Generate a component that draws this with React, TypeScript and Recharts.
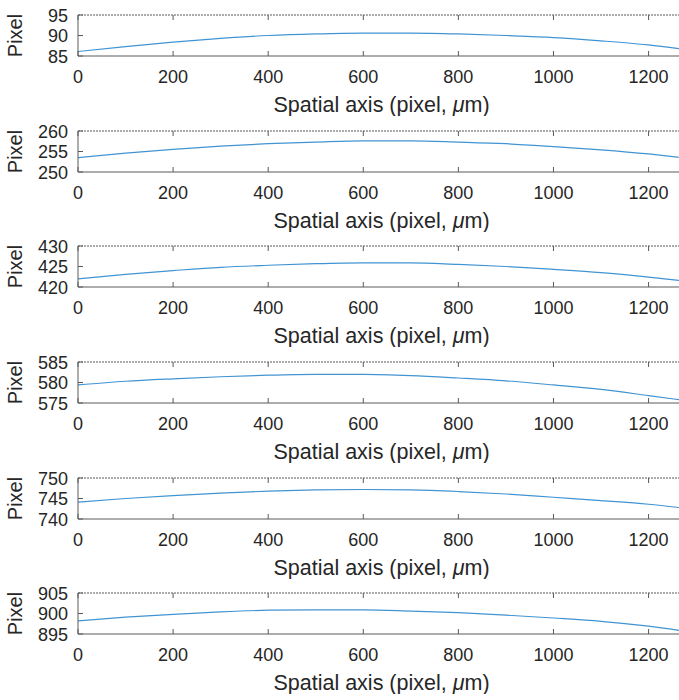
import React from 'react';
import { LineChart, Line, XAxis, YAxis } from 'recharts';

// spatial positions (pixel, µm)
const xs = [0, 100, 200, 300, 400, 500, 600, 700, 800, 900, 1000, 1100, 1200, 1264];
const xTicks = [0, 200, 400, 600, 800, 1000, 1200];

// line positions
const row1 = [86.1, 87.3, 88.4, 89.3, 90.0, 90.4, 90.6, 90.6, 90.4, 90.0, 89.5, 88.7, 87.7, 86.8];
const row2 = [253.5, 254.6, 255.5, 256.3, 256.9, 257.3, 257.6, 257.6, 257.3, 256.9, 256.2, 255.4, 254.4, 253.6];
const row3 = [422.0, 423.1, 424.0, 424.8, 425.3, 425.7, 425.9, 425.9, 425.5, 425.0, 424.3, 423.5, 422.4, 421.6];
const row4 = [579.4, 580.3, 580.9, 581.4, 581.8, 582.0, 582.0, 581.7, 581.1, 580.4, 579.4, 578.3, 576.8, 575.8];
const row5 = [744.1, 745.0, 745.7, 746.3, 746.8, 747.1, 747.2, 747.1, 746.7, 746.1, 745.3, 744.5, 743.6, 742.8];
const row6 = [898.2, 899.1, 899.8, 900.4, 900.8, 900.9, 900.9, 900.6, 900.2, 899.6, 898.9, 898.1, 896.9, 895.9];

const rows = [row1, row2, row3, row4, row5, row6];
const yTickSets = [
  [85, 90, 95],
  [250, 255, 260],
  [420, 425, 430],
  [575, 580, 585],
  [740, 745, 750],
  [895, 900, 905],
];

const FONT = '"Liberation Sans", Arial, Helvetica, sans-serif';
const AXIS = '#5a5a5a';
const TEXT = '#262626';
const LINE = '#4094d3';
const PITCH = 115.66;

const BottomTick = (props: any) => {
  const { x, y, payload } = props;
  return (
    <g>
      <line x1={x} y1={y} x2={x} y2={y - 5} stroke={AXIS} />
      <text x={x} y={y + 27} textAnchor="middle" fontSize={18} fill={TEXT} fontFamily={FONT}>
        {payload.value}
      </text>
    </g>
  );
};

const TopTick = (props: any) => {
  const { x, y } = props;
  return <line x1={x} y1={y} x2={x} y2={y + 5} stroke={AXIS} />;
};

const LeftTick = (props: any) => {
  const { x, y, payload } = props;
  return (
    <g>
      <line x1={x} y1={y} x2={x + 5} y2={y} stroke={AXIS} />
      <text x={x - 10} y={y + 6.5} textAnchor="end" fontSize={18} fill={TEXT} fontFamily={FONT}>
        {payload.value}
      </text>
    </g>
  );
};

const XTitle = (props: any) => {
  const vb = props.viewBox || { x: 78, y: 56, width: 601 };
  return (
    <text x={vb.x + vb.width / 2 + 3} y={vb.y + 56} textAnchor="middle" fontSize={21.5} fill={TEXT} fontFamily={FONT}>
      Spatial axis (pixel, <tspan fontStyle="italic">μ</tspan>m)
    </text>
  );
};

const YTitle = (props: any) => {
  const vb = props.viewBox || { y: 15, height: 41 };
  const cy = vb.y + vb.height / 2;
  return (
    <text x={22} y={cy} transform={`rotate(-90 22 ${cy})`} textAnchor="middle" fontSize={20} fill={TEXT} fontFamily={FONT}>
      Pixel
    </text>
  );
};

function Panel({ values, yTicks, top }: { values: number[]; yTicks: number[]; top: number }) {
  const data = xs.map((x, i) => ({ x, y: values[i] }));
  const domain: [number, number] = [yTicks[0], yTicks[yTicks.length - 1]];
  return (
    <div style={{ position: 'absolute', left: 0, top }}>
      <LineChart width={679} height={116} data={data} margin={{ top: 14, right: 0, bottom: 0, left: 0 }}>
        <XAxis
          dataKey="x"
          type="number"
          domain={[0, 1264]}
          ticks={xTicks}
          interval={0}
          height={60}
          tickSize={0}
          tickMargin={0}
          tickLine={false}
          axisLine={{ stroke: AXIS }}
          tick={BottomTick}
          label={XTitle}
          allowDataOverflow
        />
        <XAxis
          xAxisId="top"
          orientation="top"
          dataKey="x"
          type="number"
          domain={[0, 1264]}
          ticks={xTicks}
          interval={0}
          height={1}
          tickSize={0}
          tickMargin={0}
          tickLine={false}
          axisLine={{ stroke: AXIS, strokeDasharray: '2 1' }}
          tick={TopTick}
          allowDataOverflow
        />
        <YAxis
          type="number"
          domain={domain}
          ticks={yTicks}
          interval={0}
          width={78}
          tickSize={0}
          tickMargin={0}
          tickLine={false}
          axisLine={{ stroke: AXIS }}
          tick={LeftTick}
          label={YTitle}
          allowDataOverflow
        />
        <Line
          type="monotone"
          dataKey="y"
          stroke={LINE}
          strokeWidth={1.2}
          dot={false}
          isAnimationActive={false}
        />
      </LineChart>
    </div>
  );
}

export default function App() {
  return (
    <div style={{ position: 'absolute', left: 0, top: 0, width: 679, height: 700, overflow: 'hidden', background: '#fff' }}>
      {rows.map((r, i) => (
        <Panel key={i} values={r} yTicks={yTickSets[i]} top={Math.round(i * PITCH)} />
      ))}
    </div>
  );
}
